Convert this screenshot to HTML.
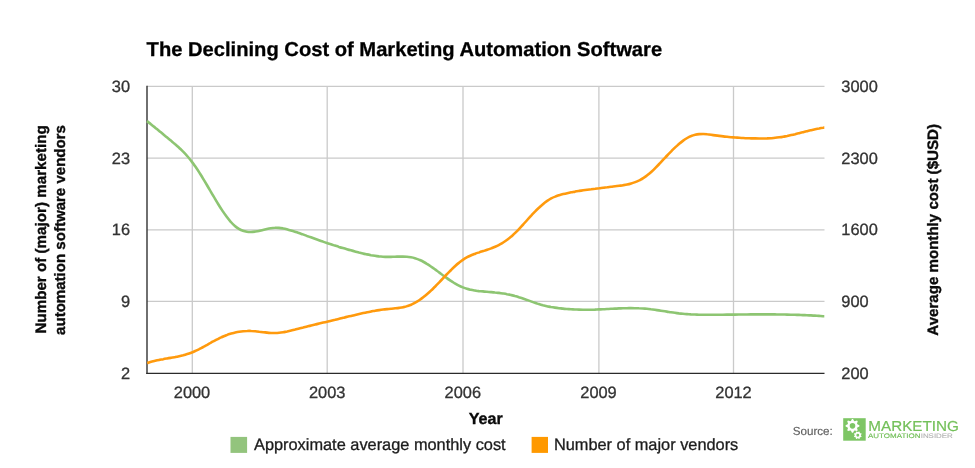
<!DOCTYPE html>
<html>
<head>
<meta charset="utf-8">
<title>The Declining Cost of Marketing Automation Software</title>
<style>
html,body{margin:0;padding:0;background:#fff;-webkit-font-smoothing:antialiased;}
body{width:975px;height:468px;overflow:hidden;font-family:"Liberation Sans",sans-serif;}
svg{display:block;will-change:transform;}
text{font-family:"Liberation Sans",sans-serif;text-rendering:geometricPrecision;}
.tick{font-size:16.4px;fill:#333;stroke:#333;stroke-width:0.3px;}
.bold{font-weight:bold;fill:#0a0a0a;stroke:#0a0a0a;stroke-width:0.35px;}
</style>
</head>
<body>
<svg width="975" height="468" viewBox="0 0 975 468">
  <rect x="0" y="0" width="975" height="468" fill="#ffffff"/>
  <!-- title -->
  <text id="title" x="146.6" y="55.8" font-weight="bold" font-size="20.17" fill="#000" stroke="#000" stroke-width="0.3">The Declining Cost of Marketing Automation Software</text>

  <!-- gridlines -->
  <g stroke="#cacaca" stroke-width="1.3" fill="none">
    <line x1="147" y1="86.3" x2="824.5" y2="86.3"/>
    <line x1="147" y1="158.15" x2="824.5" y2="158.15"/>
    <line x1="147" y1="229.8" x2="824.5" y2="229.8"/>
    <line x1="147" y1="301.45" x2="824.5" y2="301.45"/>
    <line x1="192.3" y1="86.3" x2="192.3" y2="373"/>
    <line x1="327.2" y1="86.3" x2="327.2" y2="373"/>
    <line x1="463" y1="86.3" x2="463" y2="373"/>
    <line x1="598.9" y1="86.3" x2="598.9" y2="373"/>
    <line x1="733.5" y1="86.3" x2="733.5" y2="373"/>
  </g>
  <!-- axes -->
  <g stroke="#333333" fill="none">
    <line x1="147" y1="85.7" x2="147" y2="373.9" stroke-width="1.4"/>
    <line x1="146.3" y1="373.4" x2="824.5" y2="373.4" stroke-width="1.2" stroke="#2b2b2b"/>
  </g>

  <!-- series -->
  <path d="M146.9,121.1C147.6,121.6 149.6,123.2 150.9,124.2C152.2,125.3 153.6,126.4 154.9,127.4C156.2,128.5 157.6,129.6 158.9,130.7C160.2,131.8 161.6,132.9 162.9,134.0C164.2,135.1 165.6,136.2 166.9,137.3C168.2,138.4 169.6,139.5 170.9,140.6C172.2,141.7 173.6,142.8 174.9,144.0C176.2,145.1 177.6,146.3 178.9,147.5C180.2,148.8 181.6,150.0 182.9,151.4C184.2,152.7 185.6,154.1 186.9,155.7C188.2,157.2 189.6,158.8 190.9,160.5C192.2,162.2 193.6,164.0 194.9,165.9C196.2,167.8 197.6,169.8 198.9,171.9C200.2,174.0 201.6,176.1 202.9,178.3C204.2,180.5 205.6,182.8 206.9,185.0C208.2,187.3 209.6,189.6 210.9,191.8C212.2,194.1 213.6,196.4 214.9,198.6C216.2,200.8 217.6,203.1 218.9,205.2C220.2,207.3 221.6,209.4 222.9,211.4C224.2,213.4 225.6,215.3 226.9,217.1C228.2,218.9 229.6,220.5 230.9,222.0C232.2,223.5 233.6,224.9 234.9,226.0C236.2,227.2 237.6,228.1 238.9,228.9C240.2,229.7 241.6,230.4 242.9,230.8C244.2,231.3 245.6,231.6 246.9,231.8C248.2,232.0 249.6,232.0 250.9,232.0C252.2,232.0 253.6,231.8 254.9,231.6C256.2,231.4 257.6,231.2 258.9,230.9C260.2,230.6 261.6,230.2 262.9,229.9C264.2,229.6 265.6,229.3 266.9,229.0C268.2,228.7 269.6,228.4 270.9,228.2C272.2,228.0 273.6,227.8 274.9,227.8C276.2,227.7 277.6,227.8 278.9,227.9C280.2,228.0 281.6,228.2 282.9,228.4C284.2,228.7 285.6,229.0 286.9,229.3C288.2,229.7 289.6,230.1 290.9,230.5C292.2,230.9 293.6,231.3 294.9,231.7C296.2,232.1 297.6,232.6 298.9,233.0C300.2,233.5 301.6,233.9 302.9,234.4C304.2,234.9 305.6,235.4 306.9,235.9C308.2,236.3 309.6,236.8 310.9,237.3C312.2,237.8 313.6,238.3 314.9,238.8C316.2,239.3 317.6,239.8 318.9,240.2C320.2,240.7 321.6,241.2 322.9,241.6C324.2,242.1 325.6,242.6 326.9,243.0C328.2,243.5 329.6,243.9 330.9,244.3C332.2,244.8 333.6,245.2 334.9,245.6C336.2,246.0 337.6,246.4 338.9,246.9C340.2,247.3 341.6,247.7 342.9,248.0C344.2,248.4 345.6,248.8 346.9,249.2C348.2,249.6 349.6,250.0 350.9,250.3C352.2,250.7 353.6,251.1 354.9,251.4C356.2,251.8 357.6,252.1 358.9,252.5C360.2,252.8 361.6,253.1 362.9,253.4C364.2,253.8 365.6,254.1 366.9,254.4C368.2,254.6 369.6,254.9 370.9,255.2C372.2,255.4 373.6,255.6 374.9,255.8C376.2,256.0 377.6,256.2 378.9,256.4C380.2,256.5 381.6,256.6 382.9,256.7C384.2,256.8 385.6,256.9 386.9,256.9C388.2,256.9 389.6,256.9 390.9,256.9C392.2,256.8 393.6,256.8 394.9,256.7C396.2,256.7 397.6,256.6 398.9,256.6C400.2,256.6 401.6,256.6 402.9,256.6C404.2,256.6 405.6,256.7 406.9,256.8C408.2,256.9 409.6,257.1 410.9,257.3C412.2,257.5 413.6,257.8 414.9,258.2C416.2,258.6 417.6,259.1 418.9,259.6C420.2,260.2 421.6,260.8 422.9,261.5C424.2,262.2 425.6,263.0 426.9,263.9C428.2,264.7 429.6,265.6 430.9,266.5C432.2,267.4 433.6,268.4 434.9,269.3C436.2,270.3 437.6,271.3 438.9,272.3C440.2,273.3 441.6,274.3 442.9,275.3C444.2,276.2 445.6,277.2 446.9,278.1C448.2,279.1 449.6,280.0 450.9,280.9C452.2,281.8 453.6,282.6 454.9,283.4C456.2,284.2 457.6,284.9 458.9,285.6C460.2,286.3 461.6,286.9 462.9,287.4C464.2,287.9 465.6,288.4 466.9,288.8C468.2,289.2 469.6,289.5 470.9,289.8C472.2,290.1 473.6,290.3 474.9,290.5C476.2,290.8 477.6,290.9 478.9,291.1C480.2,291.2 481.6,291.3 482.9,291.4C484.2,291.6 485.6,291.7 486.9,291.8C488.2,291.9 489.6,292.0 490.9,292.1C492.2,292.2 493.6,292.3 494.9,292.5C496.2,292.6 497.6,292.8 498.9,292.9C500.2,293.1 501.6,293.3 502.9,293.5C504.2,293.7 505.6,293.9 506.9,294.2C508.2,294.4 509.6,294.7 510.9,295.0C512.2,295.3 513.6,295.6 514.9,296.0C516.2,296.3 517.6,296.7 518.9,297.2C520.2,297.6 521.6,298.0 522.9,298.5C524.2,299.0 525.6,299.5 526.9,299.9C528.2,300.4 529.6,300.9 530.9,301.4C532.2,301.9 533.6,302.4 534.9,302.8C536.2,303.3 537.6,303.7 538.9,304.1C540.2,304.5 541.6,304.9 542.9,305.3C544.2,305.6 545.6,305.9 546.9,306.2C548.2,306.5 549.6,306.7 550.9,307.0C552.2,307.2 553.6,307.4 554.9,307.6C556.2,307.8 557.6,308.0 558.9,308.2C560.2,308.3 561.6,308.5 562.9,308.6C564.2,308.8 565.6,308.9 566.9,309.0C568.2,309.1 569.6,309.2 570.9,309.3C572.2,309.4 573.6,309.4 574.9,309.5C576.2,309.5 577.6,309.6 578.9,309.6C580.2,309.7 581.6,309.7 582.9,309.7C584.2,309.7 585.6,309.7 586.9,309.7C588.2,309.7 589.6,309.7 590.9,309.7C592.2,309.6 593.6,309.6 594.9,309.6C596.2,309.5 597.6,309.5 598.9,309.4C600.2,309.4 601.6,309.3 602.9,309.2C604.2,309.2 605.6,309.1 606.9,309.0C608.2,309.0 609.6,308.9 610.9,308.8C612.2,308.8 613.6,308.7 614.9,308.6C616.2,308.6 617.6,308.5 618.9,308.4C620.2,308.4 621.6,308.3 622.9,308.3C624.2,308.3 625.6,308.2 626.9,308.2C628.2,308.2 629.6,308.1 630.9,308.1C632.2,308.1 633.6,308.1 634.9,308.2C636.2,308.2 637.6,308.2 638.9,308.3C640.2,308.3 641.6,308.4 642.9,308.5C644.2,308.6 645.6,308.7 646.9,308.8C648.2,308.9 649.6,309.1 650.9,309.3C652.2,309.4 653.6,309.6 654.9,309.8C656.2,310.0 657.6,310.2 658.9,310.4C660.2,310.6 661.6,310.8 662.9,311.0C664.2,311.2 665.6,311.4 666.9,311.6C668.2,311.8 669.6,312.1 670.9,312.3C672.2,312.5 673.6,312.7 674.9,312.8C676.2,313.0 677.6,313.2 678.9,313.4C680.2,313.5 681.6,313.7 682.9,313.8C684.2,313.9 685.6,314.0 686.9,314.1C688.2,314.2 689.6,314.3 690.9,314.4C692.2,314.4 693.6,314.5 694.9,314.5C696.2,314.6 697.6,314.6 698.9,314.7C700.2,314.7 701.6,314.7 702.9,314.7C704.2,314.7 705.6,314.7 706.9,314.7C708.2,314.7 709.6,314.7 710.9,314.7C712.2,314.7 713.6,314.7 714.9,314.7C716.2,314.7 717.6,314.7 718.9,314.7C720.2,314.7 721.6,314.7 722.9,314.7C724.2,314.7 725.6,314.7 726.9,314.6C728.2,314.6 729.6,314.6 730.9,314.6C732.2,314.6 733.6,314.6 734.9,314.6C736.2,314.6 737.6,314.6 738.9,314.5C740.2,314.5 741.6,314.5 742.9,314.5C744.2,314.5 745.6,314.5 746.9,314.5C748.2,314.5 749.6,314.5 750.9,314.4C752.2,314.4 753.6,314.4 754.9,314.4C756.2,314.4 757.6,314.4 758.9,314.4C760.2,314.4 761.6,314.4 762.9,314.4C764.2,314.4 765.6,314.4 766.9,314.4C768.2,314.4 769.6,314.4 770.9,314.4C772.2,314.4 773.6,314.4 774.9,314.4C776.2,314.4 777.6,314.5 778.9,314.5C780.2,314.5 781.6,314.5 782.9,314.5C784.2,314.5 785.6,314.6 786.9,314.6C788.2,314.6 789.6,314.6 790.9,314.7C792.2,314.7 793.6,314.7 794.9,314.8C796.2,314.8 797.6,314.9 798.9,314.9C800.2,315.0 801.6,315.0 802.9,315.1C804.2,315.1 805.6,315.2 806.9,315.2C808.2,315.3 809.6,315.4 810.9,315.4C812.2,315.5 813.6,315.6 814.9,315.6C816.2,315.7 817.6,315.8 818.9,315.9C820.2,316.0 822.0,316.1 822.9,316.2C823.8,316.2 824.1,316.3 824.3,316.3" fill="none" stroke="#8dc572" stroke-width="2.6" stroke-linecap="butt" stroke-linejoin="round"/>
  <path d="M147.2,363.1C147.9,362.9 149.9,362.2 151.2,361.8C152.5,361.5 153.9,361.1 155.2,360.8C156.5,360.5 157.9,360.2 159.2,359.9C160.5,359.7 161.9,359.4 163.2,359.2C164.5,358.9 165.9,358.7 167.2,358.5C168.5,358.2 169.9,358.0 171.2,357.8C172.5,357.5 173.9,357.3 175.2,357.1C176.5,356.8 177.9,356.5 179.2,356.2C180.5,355.9 181.9,355.6 183.2,355.3C184.5,354.9 185.9,354.5 187.2,354.1C188.5,353.7 189.9,353.2 191.2,352.7C192.5,352.2 193.9,351.6 195.2,351.0C196.5,350.4 197.9,349.7 199.2,349.1C200.5,348.4 201.9,347.7 203.2,347.0C204.5,346.2 205.9,345.5 207.2,344.8C208.5,344.0 209.9,343.3 211.2,342.5C212.5,341.8 213.9,341.1 215.2,340.4C216.5,339.7 217.9,339.0 219.2,338.3C220.5,337.7 221.9,337.1 223.2,336.5C224.5,335.9 225.9,335.4 227.2,334.9C228.5,334.4 229.9,334.0 231.2,333.6C232.5,333.2 233.9,332.9 235.2,332.6C236.5,332.3 237.9,332.0 239.2,331.8C240.5,331.6 241.9,331.4 243.2,331.2C244.5,331.1 245.9,331.0 247.2,331.0C248.5,330.9 249.9,330.9 251.2,331.0C252.5,331.0 253.9,331.1 255.2,331.2C256.5,331.3 257.9,331.5 259.2,331.7C260.5,331.8 261.9,332.0 263.2,332.2C264.5,332.3 265.9,332.5 267.2,332.6C268.5,332.8 269.9,332.9 271.2,333.0C272.5,333.0 273.9,333.0 275.2,333.0C276.5,333.0 277.9,332.9 279.2,332.7C280.5,332.6 281.9,332.4 283.2,332.2C284.5,332.0 285.9,331.7 287.2,331.5C288.5,331.2 289.9,330.9 291.2,330.6C292.5,330.3 293.9,329.9 295.2,329.6C296.5,329.2 297.9,328.9 299.2,328.5C300.5,328.2 301.9,327.8 303.2,327.5C304.5,327.1 305.9,326.8 307.2,326.4C308.5,326.1 309.9,325.8 311.2,325.4C312.5,325.1 313.9,324.8 315.2,324.5C316.5,324.2 317.9,323.9 319.2,323.5C320.5,323.2 321.9,322.9 323.2,322.6C324.5,322.3 325.9,322.0 327.2,321.7C328.5,321.4 329.9,321.0 331.2,320.7C332.5,320.4 333.9,320.1 335.2,319.8C336.5,319.4 337.9,319.1 339.2,318.8C340.5,318.5 341.9,318.1 343.2,317.8C344.5,317.5 345.9,317.2 347.2,316.8C348.5,316.5 349.9,316.2 351.2,315.9C352.5,315.6 353.9,315.2 355.2,314.9C356.5,314.6 357.9,314.3 359.2,314.0C360.5,313.7 361.9,313.4 363.2,313.1C364.5,312.8 365.9,312.5 367.2,312.2C368.5,312.0 369.9,311.7 371.2,311.4C372.5,311.2 373.9,310.9 375.2,310.7C376.5,310.5 377.9,310.3 379.2,310.1C380.5,309.9 381.9,309.7 383.2,309.5C384.5,309.3 385.9,309.2 387.2,309.1C388.5,308.9 389.9,308.8 391.2,308.7C392.5,308.6 393.9,308.5 395.2,308.3C396.5,308.2 397.9,308.1 399.2,307.9C400.5,307.7 401.9,307.5 403.2,307.2C404.5,306.9 405.9,306.6 407.2,306.1C408.5,305.7 409.9,305.3 411.2,304.7C412.5,304.1 413.9,303.5 415.2,302.7C416.5,302.0 417.9,301.2 419.2,300.3C420.5,299.4 421.9,298.4 423.2,297.3C424.5,296.3 425.9,295.2 427.2,294.0C428.5,292.9 429.9,291.7 431.2,290.4C432.5,289.1 433.9,287.8 435.2,286.5C436.5,285.1 437.9,283.7 439.2,282.4C440.5,281.0 441.9,279.5 443.2,278.1C444.5,276.7 445.9,275.3 447.2,273.9C448.5,272.5 449.9,271.2 451.2,269.8C452.5,268.5 453.9,267.2 455.2,266.0C456.5,264.8 457.9,263.6 459.2,262.6C460.5,261.5 461.9,260.5 463.2,259.6C464.5,258.7 465.9,257.9 467.2,257.2C468.5,256.5 469.9,255.9 471.2,255.3C472.5,254.7 473.9,254.2 475.2,253.7C476.5,253.2 477.9,252.8 479.2,252.4C480.5,251.9 481.9,251.5 483.2,251.1C484.5,250.7 485.9,250.3 487.2,249.8C488.5,249.4 489.9,248.9 491.2,248.4C492.5,247.9 493.9,247.4 495.2,246.8C496.5,246.2 497.9,245.5 499.2,244.8C500.5,244.1 501.9,243.4 503.2,242.5C504.5,241.7 505.9,240.8 507.2,239.8C508.5,238.8 509.9,237.7 511.2,236.6C512.5,235.4 513.9,234.2 515.2,232.9C516.5,231.6 517.9,230.2 519.2,228.8C520.5,227.4 521.9,225.9 523.2,224.5C524.5,223.0 525.9,221.5 527.2,220.0C528.5,218.5 529.9,217.0 531.2,215.6C532.5,214.1 533.9,212.7 535.2,211.4C536.5,210.0 537.9,208.7 539.2,207.5C540.5,206.2 541.9,205.0 543.2,203.9C544.5,202.8 545.9,201.8 547.2,200.9C548.5,200.0 549.9,199.1 551.2,198.4C552.5,197.7 553.9,197.1 555.2,196.6C556.5,196.0 557.9,195.6 559.2,195.2C560.5,194.8 561.9,194.4 563.2,194.1C564.5,193.8 565.9,193.5 567.2,193.2C568.5,192.9 569.9,192.6 571.2,192.3C572.5,192.1 573.9,191.8 575.2,191.6C576.5,191.3 577.9,191.1 579.2,190.9C580.5,190.7 581.9,190.5 583.2,190.3C584.5,190.1 585.9,189.9 587.2,189.7C588.5,189.5 589.9,189.3 591.2,189.2C592.5,189.0 593.9,188.8 595.2,188.7C596.5,188.5 597.9,188.3 599.2,188.2C600.5,188.0 601.9,187.9 603.2,187.7C604.5,187.6 605.9,187.4 607.2,187.3C608.5,187.1 609.9,187.0 611.2,186.8C612.5,186.6 613.9,186.5 615.2,186.3C616.5,186.2 617.9,186.0 619.2,185.8C620.5,185.6 621.9,185.5 623.2,185.2C624.5,185.0 625.9,184.8 627.2,184.5C628.5,184.2 629.9,183.8 631.2,183.4C632.5,183.1 633.9,182.6 635.2,182.1C636.5,181.6 637.9,181.0 639.2,180.4C640.5,179.7 641.9,179.0 643.2,178.1C644.5,177.3 645.9,176.4 647.2,175.3C648.5,174.3 649.9,173.2 651.2,172.0C652.5,170.8 653.9,169.5 655.2,168.1C656.5,166.8 657.9,165.4 659.2,164.0C660.5,162.6 661.9,161.2 663.2,159.7C664.5,158.3 665.9,156.9 667.2,155.5C668.5,154.1 669.9,152.7 671.2,151.4C672.5,150.0 673.9,148.7 675.2,147.4C676.5,146.2 677.9,145.0 679.2,143.8C680.5,142.7 681.9,141.6 683.2,140.6C684.5,139.7 685.9,138.8 687.2,138.0C688.5,137.2 689.9,136.5 691.2,136.0C692.5,135.4 693.9,135.0 695.2,134.7C696.5,134.4 697.9,134.2 699.2,134.1C700.5,134.0 701.9,134.0 703.2,134.0C704.5,134.0 705.9,134.1 707.2,134.3C708.5,134.4 709.9,134.6 711.2,134.8C712.5,135.0 713.9,135.2 715.2,135.4C716.5,135.6 717.9,135.8 719.2,135.9C720.5,136.1 721.9,136.3 723.2,136.4C724.5,136.6 725.9,136.7 727.2,136.8C728.5,137.0 729.9,137.1 731.2,137.2C732.5,137.3 733.9,137.4 735.2,137.5C736.5,137.6 737.9,137.7 739.2,137.8C740.5,137.9 741.9,138.0 743.2,138.0C744.5,138.1 745.9,138.2 747.2,138.2C748.5,138.3 749.9,138.3 751.2,138.4C752.5,138.4 753.9,138.4 755.2,138.4C756.5,138.5 757.9,138.5 759.2,138.5C760.5,138.5 761.9,138.5 763.2,138.5C764.5,138.4 765.9,138.4 767.2,138.4C768.5,138.3 769.9,138.2 771.2,138.2C772.5,138.1 773.9,138.0 775.2,137.8C776.5,137.7 777.9,137.5 779.2,137.3C780.5,137.2 781.9,137.0 783.2,136.7C784.5,136.5 785.9,136.2 787.2,136.0C788.5,135.7 789.9,135.4 791.2,135.1C792.5,134.8 793.9,134.5 795.2,134.2C796.5,133.8 797.9,133.5 799.2,133.2C800.5,132.8 801.9,132.5 803.2,132.2C804.5,131.8 805.9,131.5 807.2,131.2C808.5,130.8 809.9,130.5 811.2,130.2C812.5,129.9 813.9,129.6 815.2,129.3C816.5,129.0 817.9,128.7 819.2,128.5C820.5,128.2 822.4,127.9 823.2,127.8C824.1,127.6 824.1,127.6 824.3,127.6" fill="none" stroke="#ff9a0d" stroke-width="2.6" stroke-linecap="butt" stroke-linejoin="round"/>

  <!-- left ticks -->
  <g class="tick" text-anchor="end">
    <text x="130" y="92">30</text>
    <text x="130" y="163.75">23</text>
    <text x="130" y="235.4">16</text>
    <text x="130" y="307.1">9</text>
    <text x="130" y="378.8">2</text>
  </g>
  <!-- right ticks -->
  <g class="tick" text-anchor="start">
    <text x="841.3" y="92">3000</text>
    <text x="841.3" y="163.75">2300</text>
    <text x="841.3" y="235.4">1600</text>
    <text x="841.3" y="307.1">900</text>
    <text x="841.3" y="378.8">200</text>
  </g>
  <!-- x ticks -->
  <g class="tick" text-anchor="middle">
    <text x="192" y="397.6">2000</text>
    <text x="327.2" y="397.6">2003</text>
    <text x="462.8" y="397.6">2006</text>
    <text x="598.5" y="397.6">2009</text>
    <text x="733.5" y="397.6">2012</text>
  </g>

  <!-- axis titles -->
  <text id="year" x="485.7" y="423.8" text-anchor="middle" class="bold" font-size="16.1">Year</text>
  <text id="lt1" transform="translate(45.5,229.4) rotate(-90)" text-anchor="middle" class="bold" font-size="15.2">Number of (major) marketing</text>
  <text id="lt2" transform="translate(65,230) rotate(-90)" text-anchor="middle" class="bold" font-size="15.05">automation software vendors</text>
  <text id="rt" transform="translate(937.7,229.9) rotate(-90)" text-anchor="middle" class="bold" font-size="15.1">Average monthly cost ($USD)</text>

  <!-- legend -->
  <rect x="230.5" y="436.9" width="16.6" height="16" fill="#93c47d"/>
  <text id="lg1" x="254" y="450.1" font-size="16.35" fill="#1c1c1c" stroke="#1c1c1c" stroke-width="0.3">Approximate average monthly cost</text>
  <rect x="531.6" y="436.9" width="16.4" height="16" fill="#ff9900"/>
  <text id="lg2" x="553.9" y="450.1" font-size="16.35" fill="#1c1c1c" stroke="#1c1c1c" stroke-width="0.3">Number of major vendors</text>

  <!-- source -->
  <text id="src" x="792.8" y="434.8" font-size="11.6" fill="#5f5f5f" stroke="#5f5f5f" stroke-width="0.15">Source:</text>
  <rect x="843.2" y="418.2" width="22.5" height="22.5" fill="#7ec665"/>
  <path d="M854.08,430.70L853.04,432.73L851.96,432.73L850.92,430.70L850.18,430.39L848.02,431.10L847.25,430.33L847.96,428.17L847.65,427.43L845.62,426.39L845.62,425.31L847.65,424.27L847.96,423.53L847.25,421.37L848.02,420.60L850.18,421.31L850.92,421.00L851.96,418.97L853.04,418.97L854.08,421.00L854.82,421.31L856.98,420.60L857.75,421.37L857.04,423.53L857.35,424.27L859.38,425.31L859.38,426.39L857.35,427.43L857.04,428.17L857.75,430.33L856.98,431.10L854.82,430.39ZM849.70,425.85 a2.80,2.80 0 1,0 5.60,0 a2.80,2.80 0 1,0 -5.60,0Z" fill="#ffffff" fill-rule="evenodd"/>
  <path d="M857.56,438.29L856.62,439.02L855.93,438.74L855.79,437.56L855.44,437.21L854.26,437.07L853.98,436.38L854.71,435.44L854.71,434.96L853.98,434.02L854.26,433.33L855.44,433.19L855.79,432.84L855.93,431.66L856.62,431.38L857.56,432.11L858.04,432.11L858.98,431.38L859.67,431.66L859.81,432.84L860.16,433.19L861.34,433.33L861.62,434.02L860.89,434.96L860.89,435.44L861.62,436.38L861.34,437.07L860.16,437.21L859.81,437.56L859.67,438.74L858.98,439.02L858.04,438.29ZM856.35,435.20 a1.45,1.45 0 1,0 2.90,0 a1.45,1.45 0 1,0 -2.90,0Z" fill="#ffffff" fill-rule="evenodd"/>
  <text id="mk" x="868.3" y="431" font-size="14.4" fill="#74c05a" stroke="#74c05a" stroke-width="0.2" textLength="90.6" lengthAdjust="spacingAndGlyphs">MARKETING</text>
  <text id="au" x="868" y="437.9" font-size="6.6" fill="#72bf58" stroke="#72bf58" stroke-width="0.15" textLength="52.5" lengthAdjust="spacingAndGlyphs">AUTOMATION</text>
  <text id="ins" x="920.7" y="437.9" font-size="6.6" fill="#b2b2b2" stroke="#b2b2b2" stroke-width="0.1" textLength="32.1" lengthAdjust="spacingAndGlyphs">INSIDER</text>
</svg>
</body>
</html>
